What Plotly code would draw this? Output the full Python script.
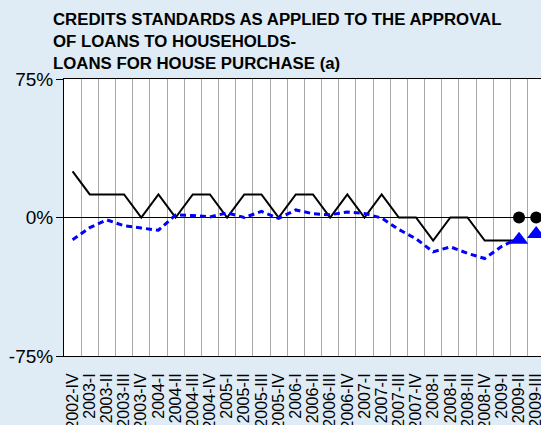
import plotly.graph_objects as go

categories = ["2002-IV", "2003-I", "2003-II", "2003-III", "2003-IV", "2004-I", "2004-II",
              "2004-III", "2004-IV", "2005-I", "2005-II", "2005-III", "2005-IV", "2006-I",
              "2006-II", "2006-III", "2006-IV", "2007-I", "2007-II", "2007-III", "2007-IV",
              "2008-I", "2008-II", "2008-III", "2008-IV", "2009-I", "2009-II", "2009-III"]

spain = [25, 12.5, 12.5, 12.5, 0, 12.5, 0, 12.5, 12.5, 0, 12.5, 12.5, 0, 12.5,
         12.5, 0, 12.5, 0, 12.5, 0, 0, -12.5, 0, 0, -12.5, -12.5, -12.5, None]

euro_area = [-12, -5.5, -1.3, -4.5, -5.7, -6.9, 1.4, 1.1, 0.3, 2.5, 0, 3.3, -0.5, 4.1,
             2.0, 1.5, 3.0, 2.2, -0.3, -6.5, -11.5, -18.6, -15.9, -19.4, -22.2, -15.6, -11, None]

spain_expected = [None] * 26 + [0, 0]
euro_expected = [None] * 26 + [-12, -9]

y_ticks = [-75, 0, 75]
y_ticktext = ["-75%", "0%", "75%"]

title_text = ("CREDITS STANDARDS AS APPLIED TO THE APPROVAL<br>"
              "OF LOANS TO HOUSEHOLDS-<br>LOANS FOR HOUSE PURCHASE (a)")

xs = list(range(len(categories)))

W, H = 541, 425

fig = go.Figure()
fig.add_trace(go.Scatter(x=xs, y=spain, mode="lines",
                         line=dict(color="black", width=2), connectgaps=False))
fig.add_trace(go.Scatter(x=xs, y=euro_area, mode="lines",
                         line=dict(color="#0000ff", width=3, dash="6px,4px")))
fig.add_trace(go.Scatter(x=xs, y=euro_expected, mode="markers",
                         marker=dict(symbol="triangle-up", size=16, color="#0000ff"),
                         cliponaxis=False))
fig.add_trace(go.Scatter(x=xs, y=spain_expected, mode="markers",
                         marker=dict(symbol="circle", size=12, color="black"),
                         cliponaxis=False))

fig.update_layout(
    width=W, height=H,
    margin=dict(l=64, r=0, t=79, b=69, autoexpand=False),
    paper_bgcolor="#dfebf5",
    plot_bgcolor="white",
    showlegend=False,
    font=dict(family="Liberation Sans, Arial, sans-serif", color="black"),
    title=dict(text="<b>" + title_text + "</b>", x=53 / W, xanchor="left", xref="container",
               y=1 - 25 / H, yanchor="top", yref="container",
               font=dict(size=16.8, family="Liberation Sans, Arial, sans-serif", color="black")),
    xaxis=dict(
        automargin=False,
        range=[-0.5, 27.28],
        tickmode="array", tickvals=xs, ticktext=categories,
        tickangle=-90, tickfont=dict(size=16),
        ticklabeloverflow="allow",
        showgrid=False, zeroline=False,
        showline=True, linecolor="black", linewidth=1, mirror=True,
        ticks="", ticklabelstandoff=10,
        minor=dict(tickmode="array", tickvals=[i + 0.5 for i in range(27)],
                   showgrid=True, gridcolor="#a8a8a8", gridwidth=1, ticks=""),
    ),
    yaxis=dict(
        automargin=False,
        range=[-75, 75],
        tickmode="array", tickvals=y_ticks, ticktext=y_ticktext,
        tickfont=dict(size=19),
        showgrid=False,
        zeroline=True, zerolinecolor="black", zerolinewidth=1,
        showline=True, linecolor="black", linewidth=1,
        ticks="outside", ticklen=7, tickcolor="black", ticklabelstandoff=-1,
    ),
)

fig.write_html(
    "out.html",
    config={"displayModeBar": False},
    post_script="document.body.style.margin='0';document.body.style.overflow='hidden';",
)
